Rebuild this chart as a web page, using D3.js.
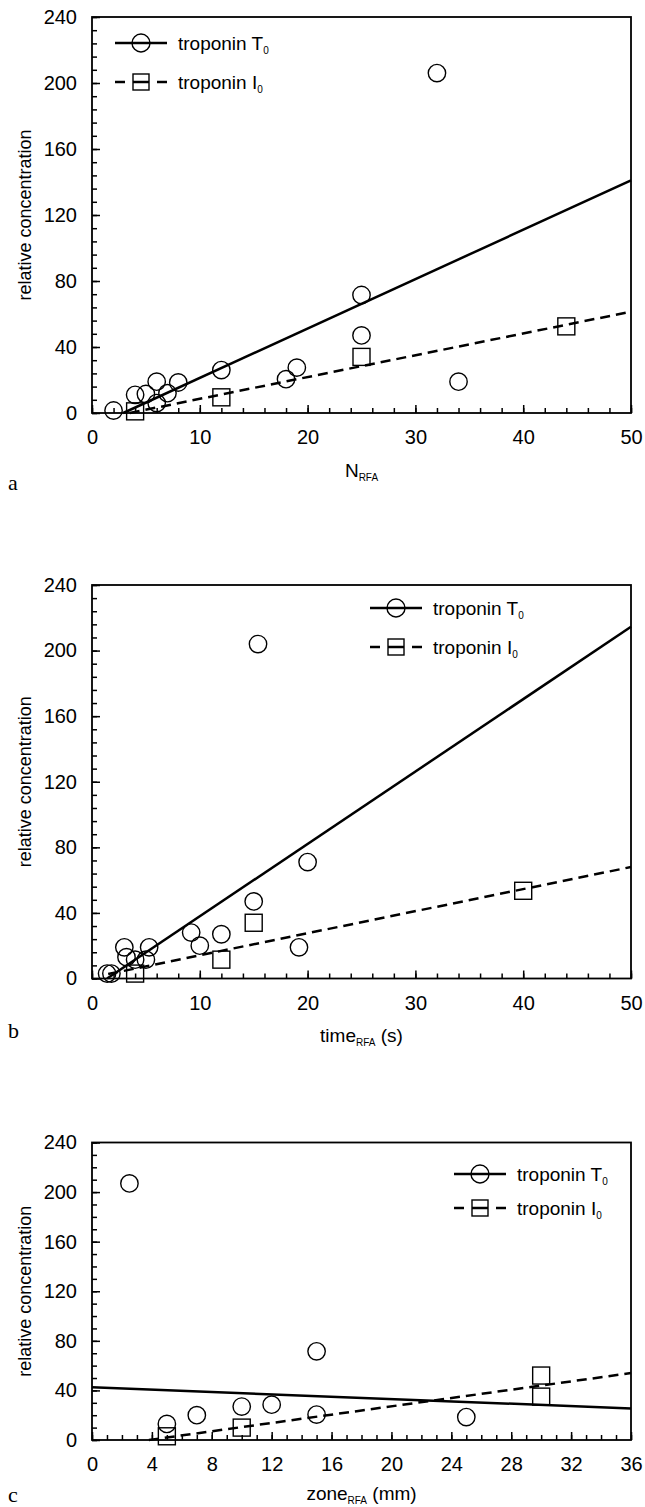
<!DOCTYPE html>
<html>
<head>
<meta charset="utf-8">
<script src="https://cdn.jsdelivr.net/npm/d3@7"></script>
<style>
  body { margin: 0; background: #fff; }
  text { font-family: "Liberation Sans", Arial, sans-serif; fill: #000; }
</style>
</head>
<body>
<div id="chart"></div>
<script>
// ---- data ----
// panel a : N_RFA
var aTx = [2, 4, 5, 6, 6, 7, 8, 12, 18, 19, 25, 25, 32, 34];
var aTy = [1.5, 11, 11.5, 19, 6, 12, 18.5, 26, 20.5, 27.5, 71.5, 47, 206, 19];
var aIx = [4, 12, 25, 44];
var aIy = [1, 9.5, 34, 52.5];
var aTfit = [[2.9, 0], [50, 141]];
var aIfit = [[3.5, 0], [50, 61.4]];

// panel b : time_RFA (s)
var bTx = [1.4, 1.8, 3, 3.2, 4, 5, 5.3, 9.2, 10, 12, 15, 15.4, 19.2, 20];
var bTy = [3, 3, 19, 13, 11.5, 11.5, 19, 28, 20, 27, 47, 204, 19, 71];
var bIx = [4, 12, 15, 40];
var bIy = [3, 11.5, 34, 53.5];
var bTfit = [[1.4, 0], [50, 214.5]];
var bIfit = [[1.5, 2.7], [50, 68]];

// panel c : zone_RFA (mm)
var cTx = [2.5, 5, 7, 10, 12, 15, 15, 25];
var cTy = [207, 13, 20, 27, 28.5, 20.5, 71.5, 18.5];
var cIx = [5, 10, 30, 30];
var cIy = [3, 10, 52, 35];
var cTfit = [[0, 42.5], [36, 25.5]];
var cIfit = [[3.8, 0], [36, 54]];

var yTicks = [0, 40, 80, 120, 160, 200, 240];
var abXTicks = [0, 10, 20, 30, 40, 50];
var cXTicks = [0, 4, 8, 12, 16, 20, 24, 28, 32, 36];

var svg = d3.select("#chart").append("svg")
  .attr("width", 645).attr("height", 1507);

var X0 = 92, X1 = 631;

function panel(p) {
  var x = d3.scaleLinear().domain([0, p.xMax]).range([X0, X1]);
  var y = d3.scaleLinear().domain([0, 240]).range([p.bottom, p.top]);
  var g = svg.append("g");

  // minor ticks
  g.append("g").attr("transform", "translate(0," + p.bottom + ")")
    .call(d3.axisBottom(x).tickValues(d3.range(0, p.xMax + 0.001, p.xMinor)).tickSize(-5).tickFormat(""))
    .call(function (s) { s.select(".domain").remove(); });
  g.append("g").attr("transform", "translate(" + X0 + ",0)")
    .call(d3.axisLeft(y).tickValues(d3.range(0, 240.001, p.yMinor)).tickSize(-5).tickFormat(""))
    .call(function (s) { s.select(".domain").remove(); });

  // major ticks + labels
  var xa = g.append("g").attr("transform", "translate(0," + p.bottom + ")")
    .call(d3.axisBottom(x).tickValues(p.xTicks).tickSize(-8).tickPadding(17));
  var ya = g.append("g").attr("transform", "translate(" + X0 + ",0)")
    .call(d3.axisLeft(y).tickValues(yTicks).tickSize(-8).tickPadding(15));
  [xa, ya].forEach(function (a) {
    a.select(".domain").remove();
    a.selectAll("text").style("font-size", "20px").attr("font-family", null);
  });
  g.selectAll(".tick line").attr("stroke", "#000").attr("stroke-width", 1.5);

  // frame
  g.append("rect").attr("x", X0).attr("y", p.top)
    .attr("width", X1 - X0).attr("height", p.bottom - p.top)
    .attr("fill", "none").attr("stroke", "#000").attr("stroke-width", 1.8);

  // fit lines
  var line = d3.line().x(function (d) { return x(d[0]); }).y(function (d) { return y(d[1]); });
  g.append("path").datum(p.tFit).attr("d", line)
    .attr("fill", "none").attr("stroke", "#000").attr("stroke-width", 2.5);
  g.append("path").datum(p.iFit).attr("d", line)
    .attr("fill", "none").attr("stroke", "#000").attr("stroke-width", 2.5)
    .attr("stroke-dasharray", "10,6");

  // markers
  g.selectAll(".pt").data(p.tx).enter().append("circle")
    .attr("cx", function (d) { return x(d); })
    .attr("cy", function (d, i) { return y(p.ty[i]); })
    .attr("r", 8.7).attr("fill", "none").attr("stroke", "#000").attr("stroke-width", 1.4);
  g.selectAll(".ps").data(p.ix).enter().append("rect")
    .attr("x", function (d) { return x(d) - 8.5; })
    .attr("y", function (d, i) { return y(p.iy[i]) - 8.5; })
    .attr("width", 17).attr("height", 17)
    .attr("fill", "none").attr("stroke", "#000").attr("stroke-width", 1.4);

  // legend
  var L = p.legend;
  var lg = g.append("g");
  lg.append("line").attr("x1", L.x).attr("x2", L.x + 52).attr("y1", L.y1).attr("y2", L.y1)
    .attr("stroke", "#000").attr("stroke-width", 2.5);
  lg.append("circle").attr("cx", L.x + 26).attr("cy", L.y1).attr("r", 9)
    .attr("fill", "none").attr("stroke", "#000").attr("stroke-width", 1.4);
  lg.append("line").attr("x1", L.x).attr("x2", L.x + 10).attr("y1", L.y2).attr("y2", L.y2)
    .attr("stroke", "#000").attr("stroke-width", 2.5);
  lg.append("line").attr("x1", L.x + 42).attr("x2", L.x + 52).attr("y1", L.y2).attr("y2", L.y2)
    .attr("stroke", "#000").attr("stroke-width", 2.5);
  lg.append("rect").attr("x", L.x + 18).attr("y", L.y2 - 8).attr("width", 16).attr("height", 16)
    .attr("fill", "#fff").attr("stroke", "#000").attr("stroke-width", 1.4);
  lg.append("line").attr("x1", L.x + 18).attr("x2", L.x + 34).attr("y1", L.y2).attr("y2", L.y2)
    .attr("stroke", "#000").attr("stroke-width", 2.5);
  [["troponin T", L.y1], ["troponin I", L.y2]].forEach(function (r) {
    var t = lg.append("text").attr("x", L.x + 63).attr("y", r[1] + 6.5).style("font-size", "19px").text(r[0]);
    t.append("tspan").attr("dy", 4).style("font-size", "10px").text("0");
  });

  // axis titles
  var xt = g.append("text").attr("x", (X0 + X1) / 2).attr("y", p.bottom + p.titleDy)
    .attr("text-anchor", "middle").style("font-size", "19px").text(p.xTitle[0]);
  xt.append("tspan").attr("dy", 4).style("font-size", "10px").text("RFA");
  if (p.xTitle[1]) xt.append("tspan").attr("dy", -4).text(" " + p.xTitle[1]);

  g.append("text").attr("transform", "translate(31," + (p.top + p.bottom) / 2 + ") rotate(-90)")
    .attr("text-anchor", "middle").style("font-size", "18px").text("relative concentration");

  g.append("text").attr("x", 8).attr("y", p.labelY)
    .style("font-family", "'Liberation Serif', 'Times New Roman', serif").style("font-size", "22px").text(p.label);
}

panel({ top: 17, bottom: 413, xMax: 50, xTicks: abXTicks, xMinor: 2, yMinor: 8,
  tx: aTx, ty: aTy, ix: aIx, iy: aIy, tFit: aTfit, iFit: aIfit,
  legend: { x: 115, y1: 43, y2: 82 }, xTitle: ["N"], titleDy: 64, label: "a", labelY: 490 });
panel({ top: 585, bottom: 978.5, xMax: 50, xTicks: abXTicks, xMinor: 2, yMinor: 8,
  tx: bTx, ty: bTy, ix: bIx, iy: bIy, tFit: bTfit, iFit: bIfit,
  legend: { x: 370, y1: 608, y2: 647 }, xTitle: ["time", "(s)"], titleDy: 63.5, label: "b", labelY: 1038 });
panel({ top: 1142.5, bottom: 1440, xMax: 36, xTicks: cXTicks, xMinor: 1, yMinor: 10,
  tx: cTx, ty: cTy, ix: cIx, iy: cIy, tFit: cTfit, iFit: cIfit,
  legend: { x: 454, y1: 1174, y2: 1208 }, xTitle: ["zone", "(mm)"], titleDy: 60, label: "c", labelY: 1502 });
</script>
</body>
</html>
